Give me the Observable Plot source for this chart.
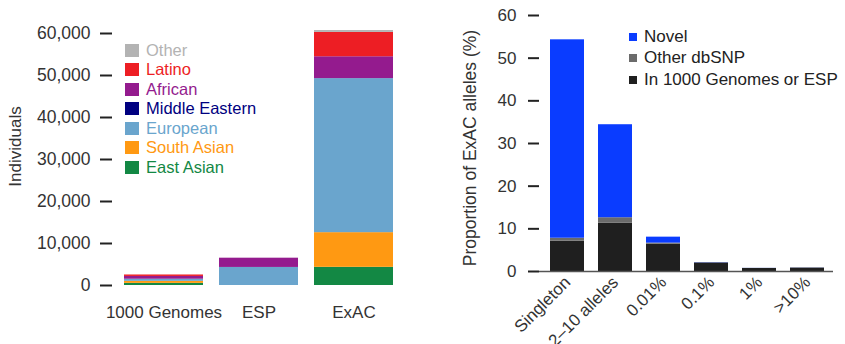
<!DOCTYPE html>
<html>
<head>
<meta charset="utf-8">
<script src="https://cdn.jsdelivr.net/npm/d3@7"></script>
<script src="https://cdn.jsdelivr.net/npm/@observablehq/plot@0.6"></script>
<style>
  html, body { margin: 0; padding: 0; background: #fff; }
  #wrap { position: relative; width: 845px; height: 344px; overflow: hidden; font-family: "Liberation Sans", Arial, Helvetica, sans-serif; }
  #left, #right { position: absolute; top: 0; }
  #left { left: 0; }
  #right { left: 430px; }
  .leg { position: absolute; }
  .row { position: absolute; left: 0; display: flex; align-items: center; white-space: nowrap; }
  .sw { display: inline-block; flex: none; }
</style>
</head>
<body>
<div id="wrap">
  <div id="left"></div>
  <div id="right"></div>
  <div id="legL" class="leg" style="left:125px; top:0px;"></div>
  <div id="legR" class="leg" style="left:629px; top:0px;"></div>
</div>
<script>
// ---------- Left panel data: individuals per cohort by population ----------
const cohorts = ["1000 Genomes", "ESP", "ExAC"];
const populations = ["East Asian", "South Asian", "European", "Middle Eastern", "African", "Latino", "Other"];
const popColors = ["#138844", "#ff9912", "#6aa5cd", "#000080", "#941b8e", "#ed1e24", "#b3b3b3"];
const eastAsian     = [504,    0,  4327];
const southAsian    = [489,    0,  8256];
const european      = [503, 4300, 36677];
const middleEastern = [0,      0,     0];
const african       = [661, 2203,  5203];
const latino        = [347,    0,  5789];
const other         = [0,      0,   454];
const yTicksLeft = [0, 10000, 20000, 30000, 40000, 50000, 60000];

// ---------- Right panel data: proportion of ExAC alleles (%) ----------
const freqBins = ["Singleton", "2\u201310 alleles", "0.01%", "0.1%", "1%", ">10%"];
const categories = ["In 1000 Genomes or ESP", "Other dbSNP", "Novel"];
const catColors = ["#1f1f1f", "#6b6b6b", "#0a3cff"];
const in1000gOrESP = [7.1, 11.3, 6.4, 2.0, 0.7, 0.8];
const otherDbSNP   = [0.7, 1.3, 0.25, 0.05, 0.03, 0.03];
const novel        = [46.5, 21.8, 1.4, 0.05, 0.02, 0.02];
const yTicksRight = [0, 10, 20, 30, 40, 50, 60];

const FONT = '"Liberation Sans", Arial, Helvetica, sans-serif';

// Build tables
const popSeries = [eastAsian, southAsian, european, middleEastern, african, latino, other];
const popRows = [];
cohorts.forEach((c, i) => populations.forEach((p, j) => popRows.push({cohort: c, population: p, n: popSeries[j][i]})));

const catSeries = [in1000gOrESP, otherDbSNP, novel];
const catRows = [];
freqBins.forEach((b, i) => categories.forEach((k, j) => catRows.push({bin: b, category: k, pct: catSeries[j][i]})));

const left = Plot.plot({
  width: 420, height: 344,
  marginTop: 33, marginBottom: 59, marginLeft: 112, marginRight: 10,
  style: {fontFamily: FONT, fontSize: "17px", color: "#333", background: "transparent", overflow: "visible"},
  x: {domain: cohorts, range: [113.5, 403], paddingInner: 0.167, paddingOuter: 0.1, label: null},
  y: {domain: [0, 60000], label: null},
  color: {domain: populations, range: popColors},
  marks: [
    Plot.barY(popRows, {x: "cohort", y: "n", fill: "population"}),
    Plot.axisY({ticks: yTicksLeft, tickFormat: d3.format(","), tickSize: 12, tickPadding: 10, strokeWidth: 2, stroke: "#222", label: null, fontSize: 17.5}),
    Plot.axisX({tickSize: 0, tickPadding: 20, label: null}),
    Plot.text(["Individuals"], {text: d => d, frameAnchor: "left", textAnchor: "middle", rotate: -90, dx: -96.5, dy: -13, fontSize: 17, fill: "#333"})
  ]
});
document.getElementById("left").appendChild(left);

const right = Plot.plot({
  width: 415, height: 344,
  marginTop: 15, marginBottom: 73, marginLeft: 109, marginRight: 12,
  style: {fontFamily: FONT, fontSize: "17px", color: "#333", background: "transparent", overflow: "visible"},
  x: {domain: freqBins, range: [107.2, 405.8], paddingInner: 0.3, paddingOuter: 0.2, label: null},
  y: {domain: [0, 60], label: null},
  color: {domain: categories, range: catColors},
  marks: [
    Plot.barY(catRows, {x: "bin", y: "pct", fill: "category"}),
    Plot.ruleY([0], {stroke: "#555", strokeWidth: 1.5}),
    Plot.axisY({ticks: yTicksRight, tickSize: 11, tickPadding: 12, strokeWidth: 2, stroke: "#222", label: null}),
    Plot.axisX({tickSize: 0, tickPadding: 8, tickRotate: -45, label: null}),
    Plot.text(["Proportion of ExAC alleles (%)"], {text: d => d, frameAnchor: "left", textAnchor: "middle", rotate: -90, dx: -69.5, dy: 4.5, fontSize: 17.5, fill: "#333"})
  ]
});
document.getElementById("right").appendChild(right);

// Left legend (top to bottom: Other ... East Asian)
const legL = document.getElementById("legL");
populations.slice().reverse().forEach((p, i) => {
  const color = popColors[populations.indexOf(p)];
  const row = document.createElement("div");
  row.className = "row";
  row.style.top = (40 + i * 19.5) + "px";
  row.style.height = "20px";
  row.innerHTML = `<span class="sw" style="width:14px;height:13px;background:${color};margin-right:7px"></span><span style="color:${color};font-size:16.5px">${p}</span>`;
  legL.appendChild(row);
});

// Right legend (top to bottom: Novel, Other dbSNP, In 1000 Genomes or ESP)
const legR = document.getElementById("legR");
categories.slice().reverse().forEach((k, i) => {
  const color = catColors[categories.indexOf(k)];
  const row = document.createElement("div");
  row.className = "row";
  row.style.top = (25.5 + i * 21.5) + "px";
  row.style.height = "22px";
  row.innerHTML = `<span class="sw" style="width:8px;height:8px;background:${color};margin-right:7px"></span><span style="color:#222;font-size:17px">${k}</span>`;
  legR.appendChild(row);
});
</script>
</body>
</html>
